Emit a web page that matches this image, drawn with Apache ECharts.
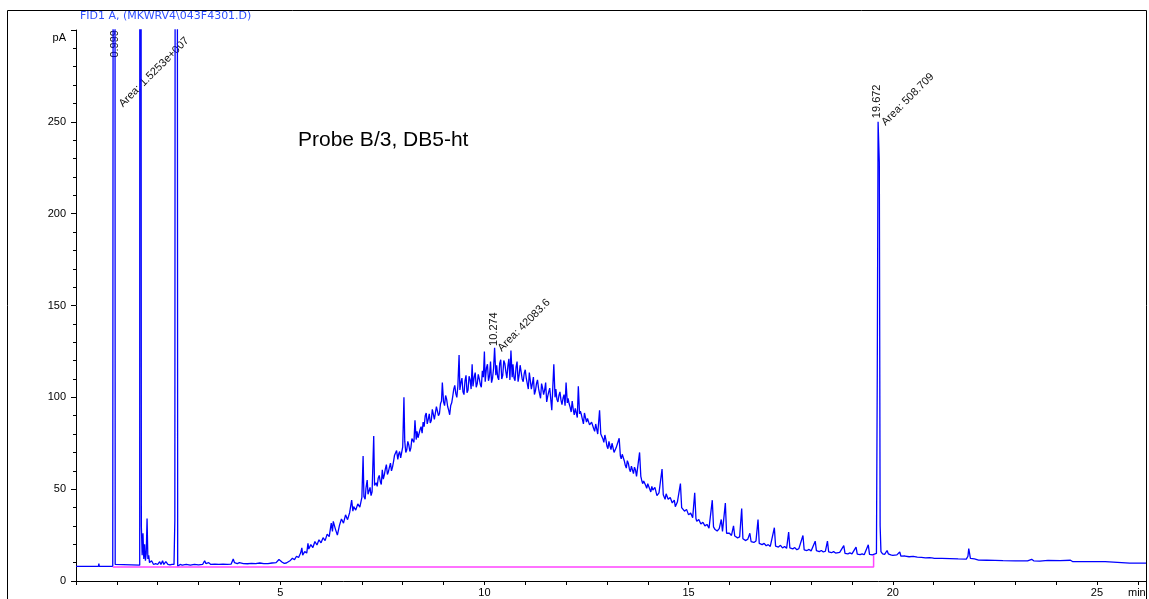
<!DOCTYPE html>
<html>
<head>
<meta charset="utf-8">
<script src="https://cdn.jsdelivr.net/npm/echarts@6/dist/echarts.min.js"></script>
<style>
html,body{margin:0;padding:0;background:#fff;}
#chart{width:1149px;height:599px;}
</style>
</head>
<body>
<div id="chart"></div>
<script>
// ---------- DATA ----------
const signalTitle = 'FID1 A, (MKWRV4\\043F4301.D)';
const sampleName = 'Probe B/3, DB5-ht';
const yTicks = [0, 50, 100, 150, 200, 250];
const xTicks = [5, 10, 15, 20, 25];
const peakRT = [0.999, 10.274, 19.672];
const peakArea = ['1.5253e+007', '42083.6', '508.709'];

// FID trace [time (min), signal (pA)]
const traceEarly = [
  [0,8],[0.55,8],[0.56,9.5],[0.57,8],[0.90,8],[0.93,8.5],[0.94,1500],[0.95,1500],[0.96,9],[1.0,8.6],
  [1.56,8.6],[1.57,1500],[1.58,1500],[1.60,30],[1.62,14],[1.64,26],[1.66,12],[1.68,20],[1.70,11],
  [1.72,15],[1.74,34],[1.76,12],[1.78,14],[1.80,10],[1.85,11],[1.90,9],[1.95,9.5],[2.00,9],
  [2.05,10.5],[2.08,9],[2.12,11],[2.15,9],[2.20,10.5],[2.25,9],[2.30,8.8],[2.35,9],[2.40,9],
  [2.42,33],[2.44,33],[2.455,1500],[2.475,1500],[2.49,8],[2.55,9],[2.60,8.7],[2.70,9],[2.80,8.7],
  [2.90,9],[3.00,8.8],[3.10,9],[3.15,11],[3.18,9.5],[3.25,10],[3.30,9],[3.40,9.2],[3.50,9],
  [3.60,9.2],[3.70,9],[3.80,9.2],[3.85,12],[3.88,10],[3.95,9.5],[4.00,10],[4.10,9.5],[4.20,9.4],
  [4.30,9.6],[4.40,9.5],[4.50,9.8],[4.60,9.5],[4.70,9.5],[4.80,9.8],[4.90,10],[4.97,11.7]
];
const traceHump = [
  [5.00,11.5],[5.05,10.2],[5.10,9.6],[5.15,9.8],[5.20,10.5],[5.25,11.2],[5.30,12.4],[5.35,11.6],
  [5.40,13.5],[5.45,12.8],[5.50,15.2],[5.53,18.0],[5.55,14.1],[5.60,16.0],[5.65,15.2],[5.68,20.5],
  [5.70,17.4],[5.75,19.8],[5.80,18.2],[5.85,21.5],[5.90,19.6],[5.95,22.4],[6.00,20.8],[6.05,23.6],
  [6.10,22.0],[6.15,25.5],[6.20,24.2],[6.25,31.5],[6.28,27.0],[6.30,32.5],[6.35,28.4],[6.40,25.0],
  [6.45,30.2],[6.50,33.8],[6.55,31.5],[6.60,36.0],[6.65,33.4],[6.70,37.2],[6.75,44.0],[6.78,38.0],
  [6.80,40.5],[6.85,38.6],[6.90,42.0],[6.95,40.2],[7.00,45.5],[7.03,68.0],[7.05,46.0],[7.08,44.5],
  [7.10,50.5],[7.13,55.0],[7.15,47.2],[7.20,51.0],[7.25,48.5],[7.29,79.0],[7.31,52.0],[7.35,53.5],
  [7.40,56.0],[7.45,54.2],[7.50,60.5],[7.55,57.8],[7.60,63.4],[7.65,59.5],[7.70,64.2],[7.75,62.0],
  [7.80,68.5],[7.85,71.0],[7.88,66.2],[7.90,69.0],[7.95,67.0],[8.00,73.0],[8.03,100.0],[8.05,76.0],
  [8.10,71.5],[8.15,74.0],[8.20,72.5],[8.25,78.5],[8.30,87.5],[8.33,77.0],[8.35,81.5],[8.40,79.0],
  [8.45,84.0],[8.50,86.5],[8.55,89.8],[8.60,85.5],[8.65,91.0],[8.70,87.4],[8.75,92.5],[8.80,89.0],
  [8.85,94.5],[8.90,91.2],[8.95,98.0],[8.97,108.0],[9.00,97.5],[9.05,101.0],[9.10,95.0],[9.15,90.5],
  [9.20,97.0],[9.25,104.5],[9.30,102.0],[9.35,106.0],[9.38,123.0],[9.40,104.0],[9.45,110.5],[9.50,101.5],
  [9.55,112.0],[9.60,104.0],[9.65,109.5],[9.70,118.0],[9.72,106.0],[9.75,111.0],[9.80,105.5],[9.85,112.5],
  [9.90,107.0],[9.95,114.5],[10.00,125.0],[10.02,108.5],[10.05,116.0],[10.10,109.0],[10.15,119.5],
  [10.20,110.5],[10.25,127.0],[10.28,112.0],[10.30,117.5],[10.35,109.5],[10.40,120.5],[10.45,112.0],
  [10.50,118.5],[10.55,110.5],[10.60,121.0],[10.65,125.5],[10.68,111.0],[10.70,118.0],[10.75,109.0],
  [10.80,119.5],[10.85,112.0],[10.90,116.5],[10.95,108.5],[11.00,115.0],[11.05,107.5],[11.10,113.5],
  [11.15,104.5],[11.20,111.0],[11.25,103.5],[11.30,109.5],[11.35,102.0],[11.40,107.5],[11.45,101.5],
  [11.50,108.0],[11.55,100.5],[11.60,105.0],[11.65,93.0],[11.70,118.0],[11.73,100.0],[11.75,104.5],
  [11.80,97.5],[11.85,103.0],[11.90,96.0],[11.95,101.5],[12.00,108.0],[12.03,97.0],[12.05,99.5],
  [12.10,94.5],[12.15,98.0],[12.20,90.5],[12.25,95.0],[12.30,106.0],[12.33,91.0],[12.35,92.5],
  [12.40,88.0],[12.45,91.5],[12.50,86.5],[12.55,89.5],[12.60,84.0],[12.65,87.5],[12.70,81.5],
  [12.75,84.5],[12.82,93.0],[12.85,80.0],[12.90,77.5],[12.95,79.5],[13.00,73.5],[13.05,76.0],
  [13.10,71.5],[13.15,74.0],[13.20,69.5],[13.25,71.5],[13.30,77.7],[13.33,68.0],[13.35,66.5],
  [13.40,68.5],[13.45,63.0],[13.50,65.5],[13.55,61.0],[13.60,62.5],[13.65,58.5],[13.70,60.5],
  [13.75,56.5],[13.80,70.0],[13.83,57.0],[13.85,55.0],[13.90,54.5],[13.95,52.0],[14.00,53.0],
  [14.05,50.0],[14.10,51.5],[14.15,48.5],[14.20,50.0],[14.25,47.5],[14.30,49.0],[14.35,61.0],
  [14.38,47.0],[14.40,46.5],[14.45,47.5],[14.50,44.5],[14.55,45.5],[14.60,42.5],[14.65,44.0],
  [14.70,41.0],[14.75,42.5],[14.80,53.0],[14.83,40.0],[14.85,39.5],[14.90,38.0],[14.95,39.0],
  [15.00,36.0],[15.05,37.0],[15.10,34.5],[15.15,48.0],[15.18,34.0],[15.20,32.5],[15.25,33.5],
  [15.30,31.0],[15.35,32.0],[15.40,30.0],[15.45,30.8],[15.50,28.8],[15.58,44.0],[15.61,29.5],
  [15.65,28.0],[15.70,27.2],[15.75,28.5],[15.80,33.5],[15.83,27.0],[15.90,42.4],[15.93,26.0],
  [15.95,25.2],[16.00,26.0],[16.05,24.8],[16.10,30.0],[16.13,24.5],[16.20,23.5],[16.25,24.0],
  [16.30,39.5],[16.33,23.0],[16.40,22.0],[16.45,22.8],[16.50,26.0],[16.53,21.5],[16.60,21.0],
  [16.65,21.8],[16.70,33.5],[16.73,20.5],[16.80,19.8],[16.85,20.5],[16.90,19.2],[16.95,19.8],
  [17.00,18.8],[17.10,29.0],[17.13,19.0],[17.20,18.5],[17.25,19.4],[17.30,18.0],[17.35,18.8],
  [17.40,17.8],[17.45,26.6],[17.48,18.0],[17.55,17.5],[17.60,18.2],[17.65,17.0],[17.70,17.6],
  [17.80,24.8],[17.83,17.0],[17.90,16.6],[17.95,17.2],[18.00,16.4],[18.10,21.7],[18.13,16.5],
  [18.20,16.0],[18.25,16.6],[18.30,15.8],[18.35,16.2],[18.40,21.7],[18.43,15.8],[18.50,15.4],
  [18.55,16.0],[18.60,15.2],[18.70,15.6],[18.80,19.3],[18.83,15.0],[18.90,14.8],[18.95,15.3],
  [19.00,14.8],[19.10,18.4],[19.13,14.6],[19.20,14.4],[19.25,14.8],[19.30,14.3],[19.40,19.7],
  [19.43,14.5],[19.50,14.2],[19.55,14.6]
];
// extra readings in the densest (noisiest) part of the hump
const traceHumpExtra = [
  [7.175,49.0],[7.225,46.5],[7.375,51.5],[7.425,57.5],[7.475,52.5],[7.525,55.5],[7.575,61.0],
  [7.625,58.0],[7.675,62.0],[7.725,60.0],[7.775,65.0],[7.925,70.5],[7.975,70.0],[8.075,70.0],
  [8.125,76.0],[8.175,70.5],[8.225,77.5],[8.275,75.5],[8.375,78.0],[8.425,82.5],[8.475,80.5],
  [8.525,84.0],[8.575,91.5],[8.625,88.0],[8.675,86.0],[8.725,93.5],[8.775,88.0],[8.825,95.0],
  [8.875,90.0],[8.925,96.5],[9.025,95.5],[9.075,99.0],[9.125,93.0],[9.175,95.5],[9.225,100.5],
  [9.275,106.5],[9.325,100.0],[9.425,108.0],[9.475,103.0],[9.525,109.0],[9.575,102.5],[9.625,111.5],
  [9.675,104.5],[9.775,113.5],[9.825,107.5],[9.875,110.0],[9.925,105.5],[9.975,111.0],[10.075,118.0],
  [10.125,111.5],[10.175,108.0],[10.225,116.0],[10.325,111.0],[10.375,118.5],[10.425,110.0],
  [10.475,120.0],[10.525,114.0],[10.575,117.0],[10.625,109.5],[10.725,110.5],[10.775,116.5],
  [10.825,108.5],[10.875,117.5],[10.925,110.0],[10.975,113.0],[11.025,110.5],[11.075,104.5],
  [11.125,109.0],[11.175,107.5],[11.225,101.5],[11.275,107.5],[11.325,105.0],[11.375,99.5],
  [11.425,105.0],[11.475,104.0],[11.525,97.5],[11.575,103.0],[11.625,99.0],[11.775,99.0],
  [11.825,101.0],[11.875,98.5],[11.925,99.5],[11.975,95.5],[12.075,96.5],[12.125,92.0],[12.175,93.5],
  [12.225,94.0],[12.275,89.0],[12.375,90.5],[12.425,85.5],[12.475,89.0],[12.525,88.5],[12.575,85.0],
  [12.625,86.5],[12.675,83.0],[12.725,85.5],[12.775,80.0],[12.875,81.0],[12.925,75.5],[12.975,77.0],
  [13.025,72.0],[13.075,73.5],[13.125,75.0],[13.175,70.0],[13.225,72.5],[13.375,69.0],[13.425,65.5],
  [13.475,61.5],[13.525,64.0],[13.575,59.5],[13.625,60.5],[13.675,62.0],[13.725,57.0],[13.875,53.0],
  [13.925,55.5],[13.975,50.5],[14.025,52.0],[14.075,48.5],[14.125,49.5],[14.175,51.0],[14.225,46.5],
  [14.275,48.0],[14.425,44.5],[14.475,46.5],[14.525,43.5],[14.575,44.0],[14.625,43.0],[14.675,40.5],
  [14.725,43.0],[14.875,40.5],[14.925,37.0],[14.975,38.5]
];
const traceLate = [
  [19.60,15.0],[19.62,113],[19.63,113],[19.64,250],[19.66,250],[19.67,228],[19.68,228],[19.69,30],
  [19.71,16],[19.75,14.8],[19.80,14.5],[19.86,16.6],[19.89,14.8],[19.95,14.2],[20.00,14.0],
  [20.10,14.2],[20.17,15.8],[20.20,13.5],[20.30,13.6],[20.40,13.2],[20.50,13.4],[20.60,13.0],
  [20.70,12.9],[20.80,12.6],[20.90,12.7],[21.00,12.4],[21.20,12.3],[21.40,12.2],[21.60,12.0],
  [21.80,11.9],[21.84,13.5],[21.86,17.7],[21.88,15.0],[21.90,12.3],[22.00,12.0],[22.10,11.4],
  [22.30,11.3],[22.50,11.2],[22.70,11.1],[23.00,11.0],[23.30,11.0],[23.40,11.8],[23.45,11.0],
  [23.60,10.8],[23.80,11.2],[24.10,11.1],[24.35,11.3],[24.40,10.6],[24.80,10.5],[25.20,10.5],
  [25.22,9.8],[25.80,9.7],[26.20,9.7]
];
// integration baseline (magenta)
const baseline = [[0.90,7.6],[19.53,7.6],[19.53,14.2]];

// ---------- CHART ----------
const trace = traceEarly.concat(traceHump, traceHumpExtra, traceLate).sort((a, b) => a[0] - b[0]);
const FONT = '"Liberation Sans", Arial, sans-serif';
const chart = echarts.init(document.getElementById('chart'), null, {renderer: 'canvas'});

chart.setOption({
  animation: false,
  backgroundColor: '#ffffff',
  grid: {left: 76, right: 3, top: 30, bottom: 18, containLabel: false},
  xAxis: {
    type: 'value', min: 0, max: 26.2, interval: 5,
    axisLine: {show: true, onZero: false, lineStyle: {color: '#000', width: 1}},
    axisTick: {show: true, length: 4, lineStyle: {color: '#000'}},
    minorTick: {show: true, splitNumber: 5, length: 4, lineStyle: {color: '#000'}},
    splitLine: {show: false},
    axisLabel: {
      color: '#000', fontFamily: FONT, fontSize: 11, margin: 6,
      showMaxLabel: false,
      formatter: v => (xTicks.indexOf(v) >= 0 ? String(v) : '')
    }
  },
  yAxis: {
    type: 'value', min: 0, max: 300, interval: 50,
    axisLine: {show: true, onZero: false, lineStyle: {color: '#000', width: 1}},
    axisTick: {show: true, length: 5, lineStyle: {color: '#000'}},
    minorTick: {show: true, splitNumber: 5, length: 3, lineStyle: {color: '#000'}},
    splitLine: {show: false},
    axisLabel: {
      color: '#000', fontFamily: FONT, fontSize: 11, margin: 10,
      formatter: v => (yTicks.indexOf(v) >= 0 ? String(v) : '')
    }
  },
  series: [
    {
      type: 'line', data: trace, showSymbol: false, symbol: 'none', clip: true,
      sampling: null, lineStyle: {color: '#0000ff', width: 1.3}, z: 2
    },
    {
      type: 'line', data: baseline, showSymbol: false, symbol: 'none', clip: true,
      lineStyle: {color: '#ff44ff', width: 1.5}, z: 3
    }
  ]
});

// annotations (positions derived from data coordinates through the chart's scales)
const rtLabelTop = [285, 128, 252];
const areaLabelTop = [260, 127, 250];
const px = (t, v) => chart.convertToPixel({gridIndex: 0}, [t, v]);
const graphics = [
  {type: 'rect', shape: {x: 7.5, y: 10.5, width: 1139, height: 600}, style: {fill: 'none', stroke: '#000', lineWidth: 1}, silent: true, z: 10},
  {type: 'text', x: 80, y: 16, style: {text: signalTitle, fill: '#3050ff', font: '11px "DejaVu Sans", sans-serif', textVerticalAlign: 'middle'}},
  {type: 'text', x: 66, y: 38, style: {text: 'pA', fill: '#000', font: '11px ' + FONT, textAlign: 'right', textVerticalAlign: 'middle'}},
  {type: 'text', x: 1128, y: 593, style: {text: 'min', fill: '#000', font: '11px ' + FONT, textVerticalAlign: 'middle'}},
  {type: 'text', x: 298, y: 140, style: {text: sampleName, fill: '#000', font: '21px ' + FONT, textVerticalAlign: 'middle'}}
];
peakRT.forEach((rt, i) => {
  const p = px(rt, rtLabelTop[i]);
  graphics.push({type: 'text', x: p[0] - 2, y: p[1], rotation: Math.PI / 2,
    style: {text: rt.toFixed(3), fill: '#111', font: '11px ' + FONT, textAlign: 'left', textVerticalAlign: 'middle'}});
  const q = px(rt, areaLabelTop[i]);
  graphics.push({type: 'text', x: q[0] + 4, y: q[1] + 2, rotation: Math.PI / 4,
    style: {text: 'Area: ' + peakArea[i], fill: '#111', font: '11px ' + FONT, textAlign: 'left', textVerticalAlign: 'middle'}});
});
chart.setOption({graphic: graphics});
</script>
</body>
</html>
